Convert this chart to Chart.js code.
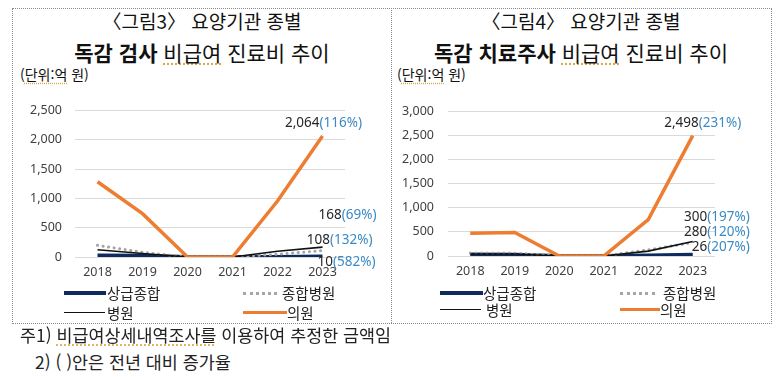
<!DOCTYPE html>
<html lang="ko">
<head>
<meta charset="UTF-8">
<title>요양기관 종별 독감 검사·치료주사 비급여 진료비 추이</title>
<script src="https://cdn.jsdelivr.net/npm/chart.js@4.4.1/dist/chart.umd.min.js"></script>
<style>
  body { margin: 0; width: 780px; height: 377px; background: #fff; position: relative; overflow: hidden;
         font-family: "Noto Sans CJK KR", "Noto Sans", sans-serif; color: #111; }
  .box { position: absolute; left: 12px; top: 8px; width: 758px; height: 314px; border: 1px dotted #8a8a8a; }
  .divider { position: absolute; left: 391px; top: 8px; height: 315px; border-left: 1px dotted #8a8a8a; }
  .t1, .t2 { position: absolute; width: 380px; text-align: center; white-space: nowrap; line-height: 1; }
  .t1 { top: 10.5px; font-size: 19px; }
  .t2 { top: 41.5px; font-size: 21px; }
  .t2 b { font-weight: 700; }
  .wavy { text-decoration: underline dotted #d8a850; text-underline-offset: 3px; }
  .unit { position: absolute; top: 67px; font-size: 14px; line-height: 1; }
  canvas { position: absolute; }
  .lg { position: absolute; height: 0; }
  .lg i { position: absolute; left: 0; top: 0; }
  .lg span { position: absolute; top: -9px; font-size: 14.5px; line-height: 17px; white-space: nowrap; color: #222; }
  .note { position: absolute; font-size: 17.4px; line-height: 1; white-space: nowrap; color: #222; }
</style>
</head>
<body>
<div class="box"></div>
<div class="divider"></div>

<div class="t1" style="left:12px">〈그림3〉 요양기관 종별</div>
<div class="t2" style="left:12px"><b>독감 검사</b> <span class="wavy">비급여</span> 진료비 추이</div>
<div class="unit" style="left:20px">(<span class="wavy">단위:억</span> 원)</div>

<div class="t1" style="left:391px">〈그림4〉 요양기관 종별</div>
<div class="t2" style="left:391px"><b>독감 치료주사</b> <span class="wavy">비급여</span> 진료비 추이</div>
<div class="unit" style="left:397px">(<span class="wavy">단위:억</span> 원)</div>

<canvas id="chart1" width="390" height="200" style="left:0;top:90px"></canvas>
<canvas id="chart2" width="390" height="200" style="left:390px;top:90px"></canvas>

<div id="legend1"></div>
<div id="legend2"></div>

<div class="note" style="left:20px;top:326px">주1) <span class="wavy">비급여상세내역조사를</span> 이용하여 추정한 금액임</div>
<div class="note" style="left:35px;top:353px">2) ( )안은 전년 대비 증가율</div>

<script>
// 데이터 (단위: 억 원)
const years = ['2018', '2019', '2020', '2021', '2022', '2023'];
const seriesNames = ['상급종합', '종합병원', '병원', '의원'];

// 그림3: 독감 검사
const testTertiary = [25, 20, 0, 0, 1.5, 10];
const testGeneral  = [200, 80, 0, 0, 47, 108];
const testHospital = [124, 60, 0, 0, 99, 168];
const testClinic   = [1285, 740, 0, 0, 955, 2064];
const testRates    = ['582%', '132%', '69%', '116%'];
const testTicks    = [0, 500, 1000, 1500, 2000, 2500];

// 그림4: 독감 치료주사
const injTertiary = [30, 25, 0, 0, 8.5, 26];
const injGeneral  = [60, 60, 0, 0, 127, 280];
const injHospital = [40, 40, 0, 0, 101, 300];
const injClinic   = [470, 490, 0, 0, 755, 2498];
const injRates    = ['207%', '120%', '197%', '231%'];
const injTicks    = [0, 500, 1000, 1500, 2000, 2500, 3000];

// 계열 스타일
const styles = [
  { borderColor: '#0f2a5c', borderWidth: 4, order: 3 },
  { borderColor: '#a6a6a6', borderWidth: 3, borderDash: [0.1, 5.5], borderCapStyle: 'round', order: 2 },
  { borderColor: '#111111', borderWidth: 1.6, order: 1 },
  { borderColor: '#ed7d31', borderWidth: 3.5, order: 0 }
];

// 마지막 값 + 증가율 라벨
const valueLabels = {
  id: 'valueLabels',
  afterDatasetsDraw(chart, args, opts) {
    const ctx = chart.ctx;
    ctx.save();
    ctx.font = '13.5px "Noto Sans", sans-serif';
    ctx.textBaseline = 'middle';
    ctx.textAlign = 'left';
    opts.items.forEach(it => {
      const meta = chart.getDatasetMeta(it.ds);
      const pt = meta.data[meta.data.length - 1];
      const data = chart.data.datasets[it.ds].data;
      const a = data[data.length - 1].toLocaleString('en-US');
      const b = '(' + opts.rates[it.ds] + ')';
      const wa = ctx.measureText(a).width;
      const wb = ctx.measureText(b).width;
      const x0 = it.align === 'center' ? pt.x + it.dx - (wa + wb) / 2 : pt.x + it.dx - (wa + wb);
      const y = pt.y + it.dy;
      ctx.fillStyle = '#262626';
      ctx.fillText(a, x0, y);
      ctx.fillStyle = '#3b8ac4';
      ctx.fillText(b, x0 + wa, y);
    });
    ctx.restore();
  }
};

function makeChart(id, series, ticks, rates, labelItems, geo) {
  return new Chart(document.getElementById(id), {
    type: 'line',
    data: {
      labels: years,
      datasets: series.map((d, i) => Object.assign({
        label: seriesNames[i],
        data: d,
        pointRadius: 0,
        tension: 0,
        fill: false
      }, styles[i]))
    },
    options: {
      responsive: false,
      animation: false,
      layout: { padding: { left: 0, right: geo.right, top: geo.top, bottom: 8 } },
      plugins: {
        legend: { display: false },
        tooltip: { enabled: false },
        valueLabels: { items: labelItems, rates: rates }
      },
      scales: {
        x: {
          offset: true,
          grid: { display: false, drawTicks: false },
          border: { display: false },
          ticks: { color: '#404040', padding: 8, font: { size: 12.5, family: '"Noto Sans", sans-serif' } },
          afterFit: s => { s.height = geo.xh; }
        },
        y: {
          min: 0,
          max: ticks[ticks.length - 1],
          afterBuildTicks: s => { s.ticks = ticks.map(v => ({ value: v })); },
          grid: { color: '#d9d9d9', lineWidth: 1, drawTicks: false },
          border: { display: false },
          ticks: {
            color: '#404040', padding: geo.tickPad,
            font: { size: 12.5, family: '"Noto Sans", sans-serif' },
            callback: v => v.toLocaleString('en-US')
          },
          afterFit: s => { s.width = geo.yw; }
        }
      }
    },
    plugins: [valueLabels]
  });
}

makeChart('chart1', [testTertiary, testGeneral, testHospital, testClinic], testTicks, testRates, [
  { ds: 3, align: 'center', dx: 1, dy: -13 },
  { ds: 2, align: 'right', dx: 54, dy: -32 },
  { ds: 1, align: 'right', dx: 50, dy: -11 },
  { ds: 0, align: 'right', dx: 53, dy: 6 }
], { top: 12, right: 45, xh: 25, yw: 75, tickPad: 13 });

makeChart('chart2', [injTertiary, injGeneral, injHospital, injClinic], injTicks, injRates, [
  { ds: 3, align: 'center', dx: 10, dy: -13 },
  { ds: 2, align: 'right', dx: 57, dy: -24 },
  { ds: 1, align: 'right', dx: 57, dy: -10 },
  { ds: 0, align: 'right', dx: 57, dy: -8 }
], { top: 14, right: 65, xh: 26, yw: 58, tickPad: 14 });

// 범례: [선 시작 x, 행 y, 선 길이, 글자 시작 x]
function swatch(i, w) {
  const s = styles[i];
  if (s.borderDash) return 'width:' + w + 'px;margin-top:-1.5px;border-top:3px dotted ' + s.borderColor;
  return 'width:' + w + 'px;margin-top:' + (-s.borderWidth / 2) + 'px;border-top:' + s.borderWidth + 'px solid ' + s.borderColor;
}
function buildLegend(id, pos) {
  document.getElementById(id).innerHTML = seriesNames.map((n, i) => {
    const p = pos[i];
    return '<div class="lg" style="left:' + p[0] + 'px;top:' + p[1] + 'px">' +
      '<i style="' + swatch(i, p[2]) + '"></i><span style="left:' + (p[3] - p[0]) + 'px">' + n + '</span></div>';
  }).join('');
}
buildLegend('legend1', [[64, 293, 42, 107], [243, 293, 34, 282], [64, 313, 41, 107], [243, 313, 44, 287]]);
buildLegend('legend2', [[440, 293, 43, 483], [620, 293, 35, 663], [440, 310, 41, 486], [620, 310, 40, 660]]);
</script>
</body>
</html>
